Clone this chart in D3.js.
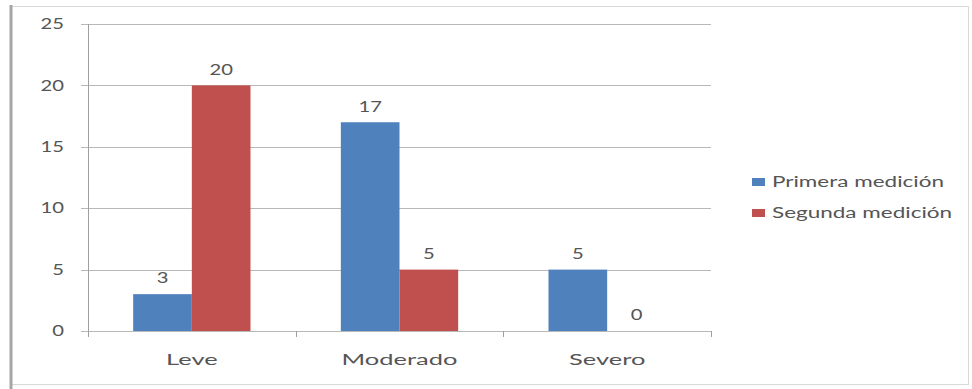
<!DOCTYPE html>
<html><head><meta charset="utf-8">
<script src="https://cdn.jsdelivr.net/npm/d3@7"></script>
<style>body{margin:0;background:#fff}svg{display:block}</style>
</head><body>
<script>
const categories = ["Leve", "Moderado", "Severo"];
const seriesNames = ["Primera medición", "Segunda medición"];
const primera = [3, 17, 5];
const segunda = [20, 5, 0];
const yTicks = [0, 5, 10, 15, 20, 25];
const colors = ["#4F81BD", "#C0504D"];

const W = 972, H = 389;
const svg = d3.select("body").append("svg").attr("width", W).attr("height", H);
const font = "Lato, 'Open Sans', sans-serif";
const textColor = "#555555";

// stretched text helper (reference text is horizontally stretched)
function label(g, x, y, txt, anchor, sx) {
  return g.append("text")
    .attr("transform", `translate(${x},${y}) scale(${sx},1)`)
    .attr("dy", "0.35em").attr("text-anchor", anchor)
    .attr("font-family", font).attr("font-size", 15).attr("fill", textColor)
    .text(txt);
}

// outer frame
svg.append("rect").attr("x", 10.5).attr("y", 6.5).attr("width", 958).attr("height", 378)
  .attr("fill", "#fff").attr("stroke", "#d9d9d9").attr("stroke-width", 1);
svg.append("line").attr("x1", 11).attr("x2", 11).attr("y1", 5).attr("y2", 389)
  .attr("stroke", "#a6a6a6").attr("stroke-width", 3);

const m = {left: 88, right: 711, top: 24, bottom: 331};
const x = d3.scaleBand().domain(categories).range([m.left, m.right]);
const x1 = d3.scaleBand().domain(seriesNames).range([0, x.bandwidth()]).paddingInner(0).paddingOuter(0.77);
const y = d3.scaleLinear().domain([0, 25]).range([m.bottom, m.top]);

// gridlines
svg.append("g").selectAll("line").data(yTicks).join("line")
  .attr("x1", m.left - 7).attr("x2", m.right)
  .attr("y1", d => Math.round(y(d)) + 0.5).attr("y2", d => Math.round(y(d)) + 0.5)
  .attr("stroke", "#b8b8b8").attr("stroke-width", 1);

// y axis
svg.append("line").attr("x1", m.left + 0.5).attr("x2", m.left + 0.5).attr("y1", m.top).attr("y2", m.bottom + 5)
  .attr("stroke", "#a0a0a0");
const yl = svg.append("g");
yTicks.forEach(d => label(yl, 64, y(d), d, "end", 1.35));

// x axis ticks
const bounds = [m.left, ...categories.map(c => x(c) + x.bandwidth())];
svg.append("g").selectAll("line").data(bounds).join("line")
  .attr("x1", d => Math.round(d) + 0.5).attr("x2", d => Math.round(d) + 0.5)
  .attr("y1", m.bottom).attr("y2", m.bottom + 6).attr("stroke", "#a0a0a0");
const xl = svg.append("g");
categories.forEach(c => label(xl, x(c) + x.bandwidth() / 2, 360, c, "middle", 1.7));

// bars
const data = [primera, segunda];
seriesNames.forEach((s, si) => {
  const g = svg.append("g");
  g.selectAll("rect").data(categories).join("rect")
    .attr("x", c => x(c) + x1(s)).attr("width", x1.bandwidth())
    .attr("y", (c, i) => y(data[si][i])).attr("height", (c, i) => y(0) - y(data[si][i]))
    .attr("fill", colors[si]);
  categories.forEach((c, i) => {
    label(g, x(c) + x1(s) + x1.bandwidth() / 2, y(data[si][i]) - 16, data[si][i], "middle", 1.35);
  });
});

// legend
const lg = svg.append("g");
seriesNames.forEach((s, i) => {
  const yy = 182 + i * 31;
  lg.append("rect").attr("x", 752).attr("y", yy - 4).attr("width", 13).attr("height", 8).attr("fill", colors[i]);
  label(lg, 772, yy, s, "start", 1.5);
});
</script>
</body></html>
